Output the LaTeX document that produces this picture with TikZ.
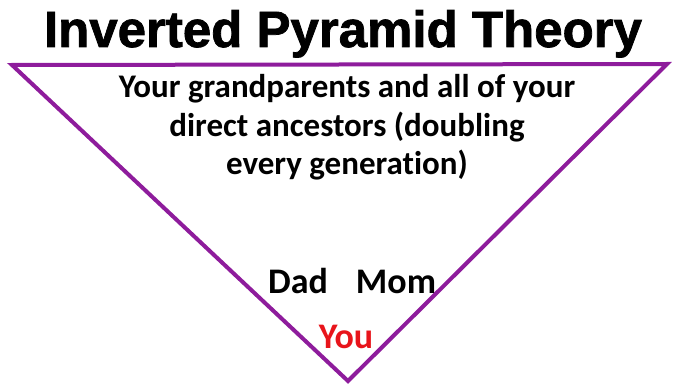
\documentclass[tikz,border=0pt]{standalone}
\usepackage{fontspec}
\setmainfont[Ligatures=NoCommon]{Carlito}
\newfontfamily\titlefont[BoldFeatures={FakeBold=1.5}]{Liberation Sans}
\definecolor{pyr}{HTML}{8E1C9C}
\definecolor{youred}{HTML}{E8141B}
\begin{document}
\begin{tikzpicture}[x=1pt,y=-1pt,
  txt/.style={font=\bfseries\fontsize{33}{38}\selectfont, inner sep=0pt, anchor=base},
  big/.style={font=\bfseries\fontsize{36}{40}\selectfont, inner sep=0pt, anchor=base},
  ttl/.style={font=\titlefont\bfseries\fontsize{51}{56}\selectfont, inner sep=0pt, anchor=base}]
\useasboundingbox (0,0) rectangle (679,385);
\coordinate (tl) at (12,65);
\coordinate (tr) at (667,64);
\coordinate (ap) at (348,381);
\draw[pyr, line width=4pt, line join=miter] (tl) -- (tr) -- (ap) -- cycle;
\node[ttl] (title) at (343,47) {Inverted Pyramid Theory};
\node[txt] (l1) at (347,98) {Your grandparents and all of your};
\node[txt] (l2) at (347,136) {direct ancestors (doubling};
\node[txt] (l3) at (347,174) {every generation)};
\node[big] (dad) at (298,293) {Dad};
\node[big] (mom) at (396,293) {Mom};
\node[big, text=youred] (you) at (346,348) {You};
\end{tikzpicture}
\end{document}
